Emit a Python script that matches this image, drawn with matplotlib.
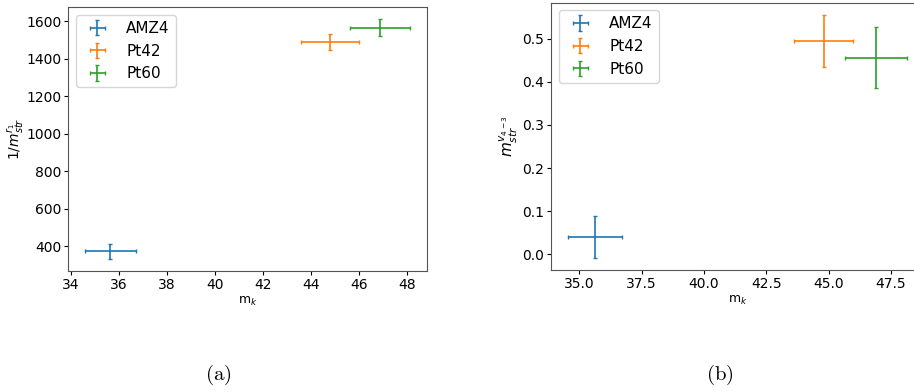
import matplotlib
matplotlib.use('Agg')
import matplotlib.pyplot as plt

# data
labels = ['AMZ4', 'Pt42', 'Pt60']
mk = [35.63, 44.8, 46.9]
mk_err = [1.07, 1.2, 1.25]

inv_m_r1 = [373, 1489, 1566]
inv_m_r1_err = [41, 43, 45]

m_v43 = [0.041, 0.495, 0.456]
m_v43_err = [0.049, 0.06, 0.07]

colors = ['#1f77b4', '#ff7f0e', '#2ca02c']

fig = plt.figure(figsize=(9.14, 3.92), dpi=100)
W, H = 914, 392

# left panel
ax1 = fig.add_axes([68.3 / W, 1 - 271 / H, (426.7 - 68.3) / W, (271 - 7.3) / H])
for lab, x, xe, y, ye, c in zip(labels, mk, mk_err, inv_m_r1, inv_m_r1_err, colors):
    ax1.errorbar(x, y, xerr=xe, yerr=ye, fmt='none', ecolor=c, capsize=1.5,
                 elinewidth=1.2, label=lab)
ax1.set_xticks([34, 36, 38, 40, 42, 44, 46, 48])
ax1.set_yticks([400, 600, 800, 1000, 1200, 1400, 1600])
ax1.set_xlabel(r'm$_k$', fontsize=9, labelpad=2)
ax1.set_ylabel(r'1/$m_{str}^{r_1}$', fontsize=10, labelpad=0)
ax1.tick_params(labelsize=10, length=3, pad=2)
ax1.legend(loc='upper left', fontsize=11, handlelength=2.0, handletextpad=0.9)

# right panel (runs past the figure edge, as in the reference)
ax2 = fig.add_axes([551.3 / W, 1 - 270 / H, (924 - 551.3) / W, (270 - 2.7) / H])
for lab, x, xe, y, ye, c in zip(labels, mk, mk_err, m_v43, m_v43_err, colors):
    ax2.errorbar(x, y, xerr=xe, yerr=ye, fmt='none', ecolor=c, capsize=1.5,
                 elinewidth=1.2, label=lab)
ax2.set_xticks([35.0, 37.5, 40.0, 42.5, 45.0, 47.5])
ax2.set_yticks([0.0, 0.1, 0.2, 0.3, 0.4, 0.5])
ax2.set_xlabel(r'm$_k$', fontsize=9, labelpad=2)
ax2.set_ylabel(r'$m_{str}^{v_{4-3}}$', fontsize=11, labelpad=2)
ax2.tick_params(labelsize=10, length=3, pad=2)
ax2.legend(loc='upper left', fontsize=11, handlelength=2.0, handletextpad=0.9)

for ax in (ax1, ax2):
    for s in ax.spines.values():
        s.set_color('#555555')

fig.text(218 / W, 1 - 375 / H, r'$\mathrm{(a)}$', fontsize=15, ha='center',
         va='center', math_fontfamily='cm')
fig.text(720 / W, 1 - 375 / H, r'$\mathrm{(b)}$', fontsize=15, ha='center',
         va='center', math_fontfamily='cm')

fig.savefig('out.png', dpi=100)
